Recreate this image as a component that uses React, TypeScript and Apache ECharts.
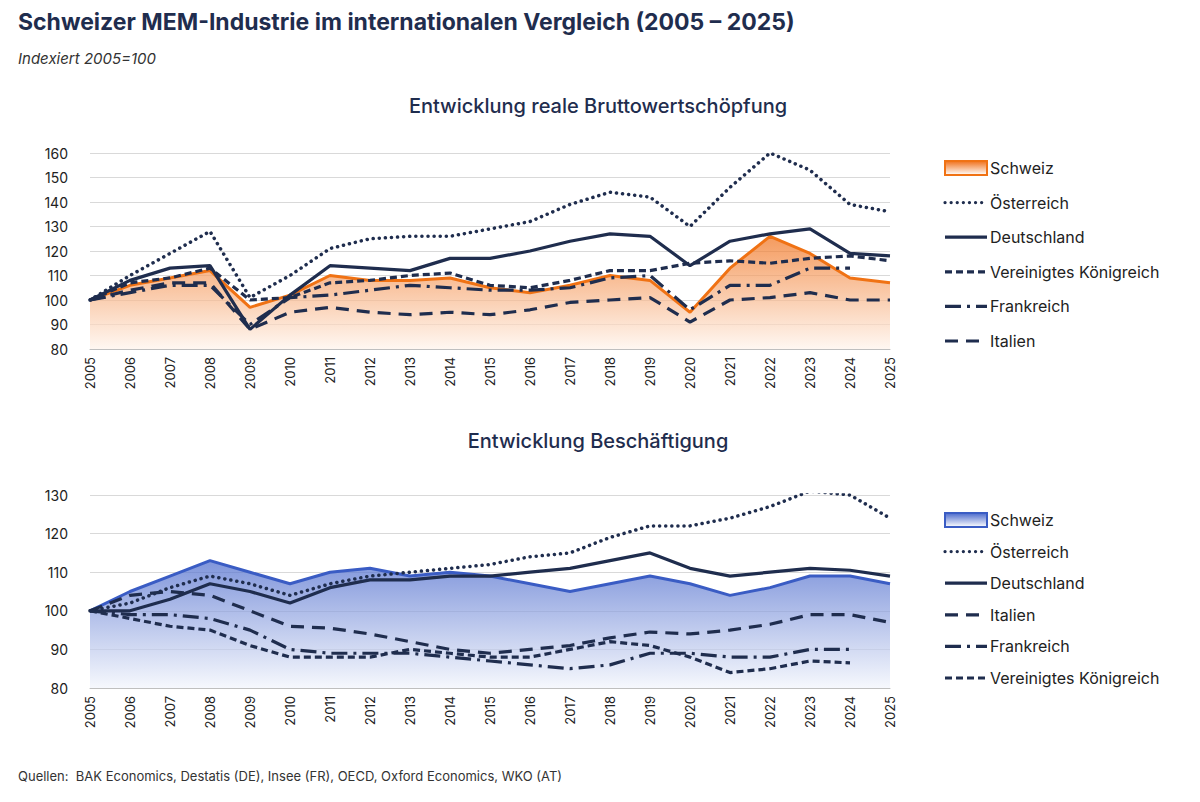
import { useEffect, useRef } from "react";
import * as echarts from "echarts";

const years = Array.from({ length: 21 }, (_, i) => String(2005 + i));

// Entwicklung reale Bruttowertschöpfung
const bwsSchweiz = [100, 106, 109, 112, 97, 102, 110, 108, 108, 109, 105, 103, 106, 110, 108, 95, 113, 126, 119, 109, 107];
const bwsOesterreich = [100, 110, 119, 128, 101, 110, 121, 125, 126, 126, 129, 132, 139, 144, 142, 130, 146, 160, 153, 139, 136];
const bwsDeutschland = [100, 108, 113, 114, 88, 102, 114, 113, 112, 117, 117, 120, 124, 127, 126, 114, 124, 127, 129, 119, 118];
const bwsUK = [100, 107, 109, 113, 100, 101, 107, 108, 110, 111, 106, 105, 108, 112, 112, 115, 116, 115, 117, 118, 116];
const bwsFrankreich = [100, 103, 106, 106, 90, 101, 102, 104, 106, 105, 104, 104, 105, 109, 110, 96, 106, 106, 113, 113, null];
const bwsItalien = [100, 104, 107, 107, 88, 95, 97, 95, 94, 95, 94, 96, 99, 100, 101, 91, 100, 101, 103, 100, 100];

// Entwicklung Beschäftigung
const bsSchweiz = [100, 105, 109, 113, 110, 107, 110, 111, 109, 110, 109, 107, 105, 107, 109, 107, 104, 106, 109, 109, 107];
const bsOesterreich = [100, 102, 106, 109, 107, 104, 107, 109, 110, 111, 112, 114, 115, 119, 122, 122, 124, 127, 131, 130, 124];
const bsDeutschland = [100, 100, 103, 107, 105, 102, 106, 108, 108, 109, 109, 110, 111, 113, 115, 111, 109, 110, 111, 110.5, 109];
const bsItalien = [100, 104, 105, 104, 100, 96, 95.5, 94, 92, 90, 89, 90, 91, 93, 94.5, 94, 95, 96.5, 99, 99, 97];
const bsFrankreich = [100, 99, 99, 98, 95, 90, 89, 89, 89, 88, 87, 86, 85, 86, 89, 89, 88, 88, 90, 90, null];
const bsUK = [100, 98, 96, 95, 91, 88, 88, 88, 90, 89, 88, 88, 90, 92, 91, 88, 84, 85, 87, 86.5, null];

const legendTop = ["Schweiz", "Österreich", "Deutschland", "Vereinigtes Königreich", "Frankreich", "Italien"];
const legendBottom = ["Schweiz", "Österreich", "Deutschland", "Italien", "Frankreich", "Vereinigtes Königreich"];

const NAVY = "#1f2d4e";
const FONT = "Inter, 'Noto Sans', sans-serif";
const dashes: Record<string, number[] | null> = {
  "Österreich": [0.1, 6],
  Deutschland: null,
  "Vereinigtes Königreich": [7, 4],
  Frankreich: [16, 6, 3, 6],
  Italien: [13, 8],
};

function navyLine(name: string, data: (number | null)[], xi: number) {
  const dotted = name === "Österreich";
  return {
    type: "line",
    name,
    data,
    xAxisIndex: xi,
    yAxisIndex: xi,
    symbol: "none",
    lineStyle: { color: NAVY, width: dotted ? 3.5 : 3.2, type: dashes[name] ?? "solid", cap: dotted ? "round" : "butt" },
    z: 3,
  };
}

function legendGraphics(names: string[], y0: number, dy: number, fill: string, stroke: string) {
  const els: any[] = [];
  names.forEach((n, i) => {
    const y = y0 + i * dy;
    if (n === "Schweiz") {
      els.push({
        type: "rect",
        shape: { x: 945, y: y - 7, width: 42, height: 14 },
        style: {
          fill: new echarts.graphic.LinearGradient(0, 0, 0, 1, [
            { offset: 0, color: fill },
            { offset: 1, color: "#ffffff" },
          ]),
          stroke,
          lineWidth: 2,
        },
      });
    } else {
      const d = dashes[n];
      els.push({
        type: "line",
        shape: { x1: 945, y1: y, x2: 987, y2: y },
        style: { stroke: NAVY, lineWidth: 3.2, lineDash: d ?? undefined, lineCap: n === "Österreich" ? "round" : "butt" },
      });
    }
    els.push({
      type: "text",
      x: 990,
      y,
      style: { text: n, font: `16px ${FONT}`, fill: "#222", verticalAlign: "middle" },
    });
  });
  return els;
}

export default function App() {
  const ref = useRef<HTMLDivElement>(null);
  useEffect(() => {
    document.body.style.margin = "0";
    if (!ref.current) return;
    const chart = echarts.init(ref.current, undefined, { renderer: "svg" });
    const xAxisBase = {
      type: "category",
      data: years,
      boundaryGap: false,
      axisLine: { lineStyle: { color: "#bfbfbf" } },
      axisTick: { show: false },
      axisLabel: { rotate: 90, color: "#222", fontSize: 13, fontFamily: FONT, margin: 8 },
    };
    const yAxisBase = {
      type: "value",
      min: 80,
      interval: 10,
      axisLabel: { color: "#222", fontSize: 14, fontFamily: FONT, margin: 22 },
      splitLine: { lineStyle: { color: "#d9d9d9" } },
      axisLine: { show: false },
    };
    const option = {
      animation: false,
      backgroundColor: "#fff",
      textStyle: { fontFamily: FONT },
      grid: [
        { left: 90, right: 310, top: 153, height: 196 },
        { left: 90, right: 310, top: 495, height: 193 },
      ],
      xAxis: [
        { ...xAxisBase, gridIndex: 0 },
        { ...xAxisBase, gridIndex: 1 },
      ],
      yAxis: [
        { ...yAxisBase, gridIndex: 0, max: 160 },
        { ...yAxisBase, gridIndex: 1, max: 130 },
      ],
      series: [
        {
          type: "line",
          name: "Schweiz",
          data: bwsSchweiz,
          xAxisIndex: 0,
          yAxisIndex: 0,
          symbol: "none",
          lineStyle: { color: "#f07214", width: 3 },
          areaStyle: {
            origin: "start",
            color: new echarts.graphic.LinearGradient(0, 0, 0, 1, [
              { offset: 0, color: "#f0701a" },
              { offset: 1, color: "#fff4ec" },
            ]),
          },
          z: 2,
        },
        navyLine("Österreich", bwsOesterreich, 0),
        navyLine("Deutschland", bwsDeutschland, 0),
        navyLine("Vereinigtes Königreich", bwsUK, 0),
        navyLine("Frankreich", bwsFrankreich, 0),
        navyLine("Italien", bwsItalien, 0),
        {
          type: "line",
          name: "Schweiz",
          data: bsSchweiz,
          xAxisIndex: 1,
          yAxisIndex: 1,
          symbol: "none",
          lineStyle: { color: "#3a5cc4", width: 3 },
          areaStyle: {
            origin: "start",
            color: new echarts.graphic.LinearGradient(0, 0, 0, 1, [
              { offset: 0, color: "#4a69cc" },
              { offset: 1, color: "#f2f5fc" },
            ]),
          },
          z: 2,
        },
        navyLine("Österreich", bsOesterreich, 1),
        navyLine("Deutschland", bsDeutschland, 1),
        navyLine("Italien", bsItalien, 1),
        navyLine("Frankreich", bsFrankreich, 1),
        navyLine("Vereinigtes Königreich", bsUK, 1),
      ],
      graphic: [
        {
          type: "text",
          left: 18,
          top: 10,
          style: { text: "Schweizer MEM-Industrie im internationalen Vergleich (2005 – 2025)", font: `bold 23px ${FONT}`, fill: NAVY },
        },
        {
          type: "text",
          left: 18,
          top: 51,
          style: { text: "Indexiert 2005=100", font: `italic 15px ${FONT}`, fill: "#333" },
        },
        {
          type: "text",
          x: 598,
          y: 106,
          style: { text: "Entwicklung reale Bruttowertschöpfung", font: `500 20px ${FONT}`, fill: NAVY, align: "center", verticalAlign: "middle" },
        },
        {
          type: "text",
          x: 598,
          y: 441,
          style: { text: "Entwicklung Beschäftigung", font: `500 20px ${FONT}`, fill: NAVY, align: "center", verticalAlign: "middle" },
        },
        {
          type: "text",
          left: 18,
          top: 769,
          style: { text: "Quellen:  BAK Economics, Destatis (DE), Insee (FR), OECD, Oxford Economics, WKO (AT)", font: `13px ${FONT}`, fill: "#333" },
        },
        ...legendGraphics(legendTop, 168, 34.6, "#f0701a", "#f07214"),
        ...legendGraphics(legendBottom, 520, 31.6, "#4a69cc", "#3a5cc4"),
      ],
    } as any;
    chart.setOption(option);
    return () => chart.dispose();
  }, []);
  return <div ref={ref} style={{ width: 1200, height: 802 }} />;
}
